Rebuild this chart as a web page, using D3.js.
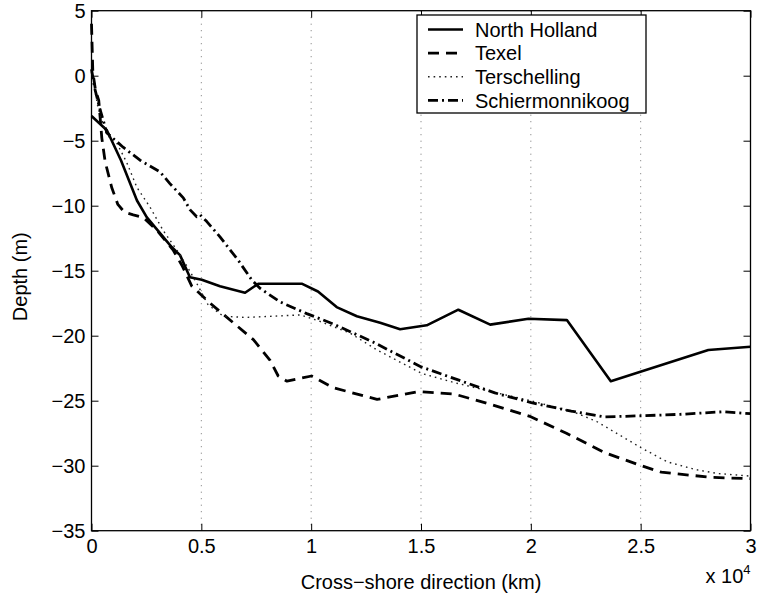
<!DOCTYPE html>
<html>
<head>
<meta charset="utf-8">
<script src="https://cdn.jsdelivr.net/npm/d3@7"></script>
<style>
  body { margin: 0; background: #fff; }
  svg text { font-family: "Liberation Sans", Arial, sans-serif; fill: #000; }
</style>
</head>
<body>
<div id="chart"></div>
<script>
// cross-shore depth profiles, [distance (m), depth (m)]
var northHolland = [[0,-3.1],[700,-4.2],[1340,-6.5],[2070,-9.6],[2520,-10.9],[3660,-13.2],[4030,-13.8],
  [4480,-15.5],[5020,-15.7],[5850,-16.2],[6990,-16.7],[7590,-16.0],[9570,-16.0],[10310,-16.6],
  [11160,-17.8],[12080,-18.5],[13140,-19.0],[14050,-19.5],[15260,-19.2],[16700,-18.0],[18150,-19.15],
  [19890,-18.7],[21640,-18.8],[23640,-23.5],[28080,-21.1],[30000,-20.85]];

var texel = [[0,4.0],[60,0.3],[180,-1.1],[330,-1.9],[470,-4.8],[620,-6.6],[920,-8.6],[1200,-9.9],
  [1500,-10.5],[1900,-10.7],[2360,-10.9],[2980,-11.9],[3710,-13.4],[4120,-14.6],[4570,-16.2],
  [5400,-17.5],[6450,-19.0],[7370,-20.3],[8130,-21.9],[8500,-23.1],[8900,-23.5],[10020,-23.1],
  [11000,-24.0],[13000,-24.9],[14860,-24.3],[16540,-24.5],[18200,-25.3],[19950,-26.2],[21620,-27.5],
  [23370,-29.0],[25030,-30.0],[25940,-30.5],[28220,-30.9],[30000,-31.0]];

var terschelling = [[0,0.3],[300,-2.5],[700,-4.6],[1100,-5.0],[1610,-6.7],[2070,-8.6],[2660,-10.1],
  [3260,-11.9],[3880,-13.4],[4330,-14.6],[4800,-16.0],[5300,-17.6],[6000,-18.5],[7000,-18.6],
  [8300,-18.5],[9500,-18.4],[10400,-18.9],[11770,-19.8],[13000,-21.1],[15030,-22.9],[16500,-23.6],
  [18200,-24.3],[20000,-25.0],[22000,-25.9],[23000,-26.6],[24000,-27.6],[25000,-28.6],[26200,-29.7],
  [27500,-30.3],[28500,-30.6],[30000,-30.8]];

var schiermonnikoog = [[0,0.5],[150,-1.0],[390,-2.6],[700,-4.4],[1440,-5.5],[2210,-6.5],[3120,-7.4],
  [3570,-8.3],[4180,-9.4],[4480,-10.3],[4790,-10.85],[4940,-10.7],[5240,-11.2],[5850,-12.4],
  [6680,-14.2],[7290,-15.7],[7670,-16.35],[8580,-17.4],[9800,-18.3],[11010,-19.1],[12830,-20.5],
  [15010,-22.4],[16690,-23.4],[18360,-24.4],[20020,-25.15],[21840,-25.8],[23370,-26.25],
  [25190,-26.15],[26790,-26.05],[28760,-25.85],[30000,-26.0]];

var seriesNames = ["North Holland", "Texel", "Terschelling", "Schiermonnikoog"];
var xTicks = [0, 5000, 10000, 15000, 20000, 25000, 30000];
var xTickLabels = ["0", "0.5", "1", "1.5", "2", "2.5", "3"];
var yTicks = [5, 0, -5, -10, -15, -20, -25, -30, -35];
var gridX = [5000, 10000, 15000, 20000, 25000];

var series = [
  { name: seriesNames[0], values: northHolland, dash: null, width: 2.6, color: "#000" },
  { name: seriesNames[1], values: texel, dash: "11,7", width: 2.8, color: "#000" },
  { name: seriesNames[2], values: terschelling, dash: "1.6,4", width: 1.4, color: "#222" },
  { name: seriesNames[3], values: schiermonnikoog, dash: "10,4,2,4", width: 2.8, color: "#000" }
];

var totalWidth = 757, totalHeight = 596;
var margin = { top: 10.7, left: 91.5, right: 6.5, bottom: 65.3 };
var width = totalWidth - margin.left - margin.right;
var height = totalHeight - margin.top - margin.bottom;

var main_chart = d3.select("#chart").append("svg")
  .attr("width", totalWidth)
  .attr("height", totalHeight);

var svg = main_chart.append("g")
  .attr("transform", "translate(" + margin.left + "," + margin.top + ")");

var x_scale = d3.scaleLinear().domain([0, 30000]).range([0, width]);
var y_scale = d3.scaleLinear().domain([-35, 5]).range([height, 0]);

// dotted vertical grid
svg.selectAll(".grid")
  .data(gridX)
  .enter().append("line")
  .attr("x1", function(d) { return x_scale(d); })
  .attr("x2", function(d) { return x_scale(d); })
  .attr("y1", 0)
  .attr("y2", height)
  .attr("stroke", "#666")
  .attr("stroke-width", 0.9)
  .attr("stroke-dasharray", "1,5.5");

// axes, ticks inward
var tickLen = 7;
var fmtX = function(d, i) { return xTickLabels[i]; };
var fmtY = function(d) { return d < 0 ? "\u2212" + Math.abs(d) : String(d); };

var xAxis = svg.append("g")
  .attr("transform", "translate(0," + height + ")")
  .call(d3.axisBottom(x_scale).tickValues(xTicks).tickFormat(fmtX)
    .tickSizeInner(-tickLen).tickSizeOuter(0).tickPadding(8));
var yAxis = svg.append("g")
  .call(d3.axisLeft(y_scale).tickValues(yTicks).tickFormat(fmtY)
    .tickSizeInner(-tickLen).tickSizeOuter(0).tickPadding(6));
var topAxis = svg.append("g")
  .call(d3.axisTop(x_scale).tickValues(xTicks).tickFormat("")
    .tickSizeInner(-tickLen).tickSizeOuter(0));
var rightAxis = svg.append("g")
  .attr("transform", "translate(" + width + ",0)")
  .call(d3.axisRight(y_scale).tickValues(yTicks).tickFormat("")
    .tickSizeInner(-tickLen).tickSizeOuter(0));

[xAxis, yAxis, topAxis, rightAxis].forEach(function(a) {
  a.select(".domain").remove();
  a.selectAll("line").attr("stroke", "#000").attr("stroke-width", 1);
  a.selectAll("text").style("font-size", "20px").attr("fill", "#000");
});

// lines
var line = d3.line()
  .x(function(d) { return x_scale(d[0]); })
  .y(function(d) { return y_scale(d[1]); });

svg.selectAll(".line")
  .data(series)
  .enter().append("path")
  .attr("class", "line")
  .attr("d", function(d) { return line(d.values); })
  .attr("fill", "none")
  .attr("stroke", function(d) { return d.color; })
  .attr("stroke-width", function(d) { return d.width; })
  .attr("stroke-dasharray", function(d) { return d.dash; })
  .attr("stroke-linejoin", "round");

// box
svg.append("rect")
  .attr("width", width)
  .attr("height", height)
  .attr("fill", "none")
  .attr("stroke", "#000")
  .attr("stroke-width", 1.3);

// axis labels
svg.append("text")
  .attr("x", width / 2)
  .attr("y", height + 58)
  .style("text-anchor", "middle")
  .style("font-size", "20px")
  .text("Cross\u2212shore direction (km)");

var mult = svg.append("text")
  .attr("x", width)
  .attr("y", height + 52)
  .style("text-anchor", "end")
  .style("font-size", "20px");
mult.append("tspan").text("x 10");
mult.append("tspan").attr("dy", -9).style("font-size", "13px").text("4");

svg.append("text")
  .attr("transform", "translate(" + (27 - margin.left) + "," + (height / 2 + 6) + ") rotate(-90)")
  .style("text-anchor", "middle")
  .style("font-size", "20px")
  .text("Depth (m)");

// legend
var legend = svg.append("g")
  .attr("transform", "translate(" + (417 - margin.left) + "," + (15 - margin.top) + ")");
legend.append("rect")
  .attr("width", 229)
  .attr("height", 98)
  .attr("fill", "#fff")
  .attr("stroke", "#000")
  .attr("stroke-width", 1.3);

var items = legend.selectAll(".item")
  .data(series)
  .enter().append("g")
  .attr("transform", function(d, i) { return "translate(0," + (14.5 + i * 23.6) + ")"; });
items.append("line")
  .attr("x1", 11).attr("x2", 46)
  .attr("stroke", function(d) { return d.color; })
  .attr("stroke-width", function(d) { return d.width; })
  .attr("stroke-dasharray", function(d) { return d.dash; });
items.append("text")
  .attr("x", 58)
  .attr("dy", "0.36em")
  .style("font-size", "20px")
  .text(function(d) { return d.name; });
</script>
</body>
</html>
